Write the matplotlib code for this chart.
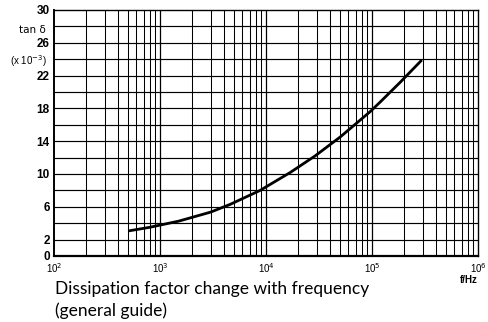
import matplotlib
matplotlib.use("Agg")
import matplotlib.pyplot as plt

freq = [500, 800, 1500, 3000, 4600, 8800, 17000, 29000, 50000, 96000, 120000, 185000, 295000]
tan_delta = [3.05, 3.5, 4.25, 5.35, 6.3, 8.0, 10.2, 12.2, 14.5, 17.6, 18.8, 21.2, 23.9]
y_ticks = [0, 2, 6, 10, 14, 18, 22, 26, 30]
x_ticks = [1e2, 1e3, 1e4, 1e5, 1e6]
x_labels = ["10$^2$", "10$^3$", "10$^4$", "10$^5$", "10$^6$"]

fig = plt.figure(figsize=(4.88, 3.22), dpi=100)
ax = fig.add_axes([54/488, 1-256/322, (478-54)/488, (256-10)/322])

ax.set_xscale("log")
ax.set_xlim(1e2, 1e6)
ax.set_ylim(0, 30)

# grid
for d in [1e2, 1e3, 1e4, 1e5]:
    for m in range(2, 10):
        ax.axvline(d*m, color="black", lw=0.75, zorder=1)
for yv in range(2, 30, 2):
    ax.axhline(yv, color="black", lw=0.85, zorder=1)
for d in [1e3, 1e4, 1e5]:
    ax.axvline(d, color="black", lw=0.9, zorder=1)

ax.plot(freq, tan_delta, color="black", lw=2.0, zorder=3,
        solid_capstyle="butt", solid_joinstyle="round")

for s in ax.spines.values():
    s.set_linewidth(1.0)
ax.spines["bottom"].set_linewidth(1.6)
ax.spines["left"].set_linewidth(1.4)

ax.set_yticks(y_ticks)
ax.set_yticklabels([str(v) for v in y_ticks], fontsize=8.5, fontweight="bold",
                   family="Liberation Sans")
ax.set_xticks(x_ticks)
ax.set_xticklabels(x_labels, fontsize=7, family="Liberation Sans")
ax.xaxis.set_minor_locator(matplotlib.ticker.NullLocator())
ax.tick_params(axis="both", length=0)
ax.tick_params(axis="y", pad=3)
ax.tick_params(axis="x", pad=4)

fig.text(46/488, 1-30/322, "tan δ", ha="right", va="center", fontsize=7.5, family="DejaVu Sans")
fig.text(47/488, 1-61/322, "(x 10$^{-3}$)", ha="right", va="center", fontsize=7,
         family="Liberation Sans")
fig.text(478/488, 1-280/322, "f/Hz", ha="right", va="center", fontsize=7,
         fontweight="bold", family="Liberation Sans")

fig.text(55/488, 1-289/322, "Dissipation factor change with frequency", ha="left",
         va="center", fontsize=12.5, family="Lato")
fig.text(55/488, 1-311/322, "(general guide)", ha="left", va="center", fontsize=12.5,
         family="Lato")

fig.savefig("out.png", dpi=100)
